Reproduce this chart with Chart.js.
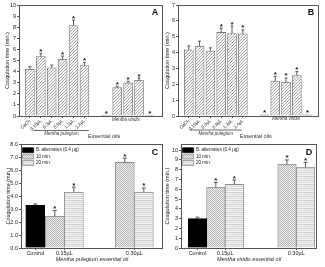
<!DOCTYPE html>
<html><head><meta charset="utf-8">
<script src="https://cdn.jsdelivr.net/npm/chart.js@4.4.1/dist/chart.umd.min.js"></script>
<style>
html,body{margin:0;padding:0;background:#fff;width:325px;height:267px;overflow:hidden}
canvas{position:absolute}
</style></head><body>
<canvas id="cA" width="164" height="140" style="left:0;top:0"></canvas>
<canvas id="cB" width="161" height="140" style="left:164px;top:0"></canvas>
<canvas id="cC" width="164" height="127" style="left:0;top:140px"></canvas>
<canvas id="cD" width="161" height="127" style="left:164px;top:140px"></canvas>
<script>
// ---------------- DATA ----------------
const doseLabels = ['CaCl\u2082','0.15\u00b5L','0.3\u00b5L','0.6\u00b5L','1.2\u00b5L','2.4\u00b5L'];
const A_pulegium     = [4.2, 5.35, 4.35, 5.1, 8.15, 4.55];
const A_pulegiumErr  = [0.24, 0.3, 0.24, 0.3, 0.48, 0.27];
const A_pulegiumStar = [false, true, false, true, true, true];
const A_viridis      = [0.08, 2.55, 2.98, 3.22, 0.08];
const A_viridisErr   = [0, 0.12, 0.15, 0.2, 0];
const A_viridisStar  = [true, true, true, true, true];

const B_pulegium     = [4.17, 4.4, 4.1, 5.27, 5.2, 5.18];
const B_pulegiumErr  = [0.25, 0.32, 0.2, 0.27, 0.46, 0.25];
const B_pulegiumStar = [false, false, false, true, true, true];
const B_viridis      = [0.08, 2.2, 2.12, 2.55, 0.08];
const B_viridisErr   = [0, 0.3, 0.28, 0.25, 0];
const B_viridisStar  = [true, true, true, true, true];

const oilDoses = ['Control', '0.15\u00b5L', '0.30\u00b5L'];
const seriesNames = ['B. alternatus (0.4 \u00b5g)', '10 min.', '20 min.'];
const C_control = [3.3];        const C_controlErr = [0.1];
const C_min10   = [2.45, 6.6];  const C_min10Err   = [0.44, 0.33];
const C_min20   = [4.3, 4.3];   const C_min20Err   = [0.4, 0.33];
const D_control = [3.0];        const D_controlErr = [0.15];
const D_min10   = [6.2, 8.55];  const D_min10Err   = [0.5, 0.45];
const D_min20   = [6.5, 8.25];  const D_min20Err   = [0.45, 0.5];

const yTitle = 'Coagulation time (min.)';

// ---------------- STYLE / LAYOUT ----------------
const FONT = '"Liberation Sans", Arial, sans-serif';
const TXT = '#222';
function pattern(kind){
  const c = document.createElement('canvas');
  let g;
  if (kind === 'diag') {
    c.width = c.height = 3; g = c.getContext('2d');
    g.fillStyle = '#f7f7f7'; g.fillRect(0,0,3,3);
    g.fillStyle = '#a9a9a9'; g.fillRect(2,0,1,1); g.fillRect(1,1,1,1); g.fillRect(0,2,1,1);
  } else if (kind === 'dots') {
    c.width = c.height = 2; g = c.getContext('2d');
    g.fillStyle = '#ececec'; g.fillRect(0,0,2,2);
    g.fillStyle = '#b8b8b8'; g.fillRect(0,0,1,1); g.fillRect(1,1,1,1);
  } else {
    c.width = 1; c.height = 4; g = c.getContext('2d');
    g.fillStyle = '#cfcfcf'; g.fillRect(0,0,1,1);
    g.fillStyle = '#f2f2f2'; g.fillRect(0,1,1,1);
    g.fillStyle = '#d9d9d9'; g.fillRect(0,2,1,1);
    g.fillStyle = '#f6f6f6'; g.fillRect(0,3,1,1);
  }
  return g.createPattern(c, 'repeat');
}

const decorPlugin = {
  id: 'decor',
  afterDatasetsDraw(chart, args, opts) {
    const ctx = chart.ctx, ys = chart.scales.y;
    chart.data.datasets.forEach((ds, di) => {
      const meta = chart.getDatasetMeta(di);
      meta.data.forEach((el, i) => {
        const v = ds.data[i].y, e = (ds.errs || [])[i] || 0;
        const top = ys.getPixelForValue(v + e);
        ctx.save();
        ctx.strokeStyle = '#333'; ctx.lineWidth = 0.8;
        if (e > 0) {
          ctx.beginPath();
          ctx.moveTo(el.x, el.y); ctx.lineTo(el.x, top);
          ctx.moveTo(el.x - opts.cap, top); ctx.lineTo(el.x + opts.cap, top);
          ctx.stroke();
        }
        if (ds.stars && ds.stars[i]) {
          ctx.fillStyle = TXT; ctx.font = 'bold 8px ' + FONT;
          ctx.textAlign = 'center'; ctx.textBaseline = 'alphabetic';
          ctx.fillText('*', el.x, top + 0.5);
        }
        ctx.restore();
      });
    });
  },
  afterDraw(chart, args, opts) {
    const ctx = chart.ctx, ca = chart.chartArea, xs = chart.scales.x;
    ctx.save();
    ctx.strokeStyle = '#555'; ctx.lineWidth = 1;
    ctx.strokeRect(Math.round(ca.left) + 0.5, Math.round(ca.top) + 0.5,
                   Math.round(ca.right - ca.left) - 1, Math.round(ca.bottom - ca.top));
    ctx.fillStyle = '#111'; ctx.font = 'bold 9px ' + FONT;
    ctx.textAlign = 'center'; ctx.textBaseline = 'middle';
    ctx.fillText(opts.letter, ca.right - 8, ca.top + 8);
    (opts.items || []).forEach(t => {
      ctx.font = (t.italic ? 'italic ' : '') + t.size + 'px ' + FONT;
      ctx.fillStyle = '#333';
      ctx.fillText(t.text, xs.getPixelForValue(t.x), t.y);
    });
    if (opts.line) {
      ctx.strokeStyle = '#444'; ctx.lineWidth = 0.8;
      ctx.beginPath();
      ctx.moveTo(xs.getPixelForValue(opts.line.x1), opts.line.y);
      ctx.lineTo(xs.getPixelForValue(opts.line.x2), opts.line.y);
      ctx.stroke();
    }
    ctx.restore();
  }
};

function yAxis(max, step, width, titlePad, dec) {
  return {
    min: 0, max: max,
    afterFit: s => { s.width = width; },
    border: { display: false },
    grid: { drawOnChartArea: false, tickLength: 2, color: '#555' },
    ticks: { stepSize: step, includeBounds: false, padding: 1, color: TXT,
             font: { family: FONT, size: 5.5 },
             callback: v => dec ? v.toFixed(1) : v },
    title: { display: true, text: yTitle, color: TXT, padding: { top: titlePad, bottom: 0 },
             font: { family: FONT, size: 5.5 } }
  };
}

function makeAB(id, pul, pulErr, pulStar, vir, virErr, virStar, ymax, xmax, yW, pr, letter, items, line) {
  const hatch = pattern('diag');
  const style = { backgroundColor: hatch, borderColor: '#7a7a7a', borderWidth: 0.8, barThickness: 9, grouped: false };
  new Chart(document.getElementById(id), {
    type: 'bar',
    data: { datasets: [
      Object.assign({ data: pul.map((y, i) => ({ x: i + 1, y })), errs: pulErr, stars: pulStar }, style),
      Object.assign({ data: vir.map((y, i) => ({ x: i + 8, y })), errs: virErr, stars: virStar }, style)
    ]},
    options: {
      responsive: false, animation: false, devicePixelRatio: 1,
      layout: { padding: { left: 0, top: 5, right: pr, bottom: 0 } },
      scales: {
        x: { type: 'linear', min: 0, max: xmax, offset: false,
             afterFit: s => { s.height = 24; },
             afterBuildTicks: s => { s.ticks = doseLabels.map((l, i) => ({ value: i + 1 })); },
             border: { display: false },
             grid: { offset: false, drawOnChartArea: false, tickLength: 2, color: '#555' },
             ticks: { autoSkip: false, minRotation: 45, maxRotation: 45, padding: 0, color: TXT,
                      font: { family: FONT, size: 4.6 },
                      callback: (v, i) => doseLabels[i] } },
        y: yAxis(ymax, 1, yW, letter === 'A' ? 4 : 0, false)
      },
      plugins: { legend: { display: false }, tooltip: { enabled: false },
                 decor: { letter, items, line, cap: 1.5 } }
    },
    plugins: [decorPlugin]
  });
}

makeAB('cA', A_pulegium, A_pulegiumErr, A_pulegiumStar, A_viridis, A_viridisErr, A_viridisStar,
  10, 13.2, 19, 1, 'A',
  [ { text: 'Mentha viridis', x: 9.8, y: 120, italic: true, size: 4.5 },
    { text: 'Mentha pulegium', x: 3.9, y: 133.5, italic: true, size: 4.5 },
    { text: 'Essential oils', x: 7.8, y: 136.5, italic: false, size: 5.5 } ],
  { x1: 1.3, x2: 6.4, y: 130.5 });

makeAB('cB', B_pulegium, B_pulegiumErr, B_pulegiumStar, B_viridis, B_viridisErr, B_viridisStar,
  7, 13.05, 14, 6, 'B',
  [ { text: 'Mentha viridis', x: 10, y: 119, italic: true, size: 4.5 },
    { text: 'Mentha pulegium', x: 3.5, y: 133.5, italic: true, size: 4.5 },
    { text: 'Essential oils', x: 7.2, y: 136.5, italic: false, size: 5.5 } ],
  { x1: 1.1, x2: 5.9, y: 130 });

function makeCD(id, ctl, ctlErr, m10, m10Err, m20, m20Err, ymax, step, dec, pos, xmax, barW, yW, pr, pt, titlePad, letter, xTitle) {
  const base = { barThickness: barW, grouped: false, borderWidth: 0.8 };
  new Chart(document.getElementById(id), {
    type: 'bar',
    data: { datasets: [
      Object.assign({ label: seriesNames[0], data: ctl.map((y, i) => ({ x: pos[i], y })), errs: ctlErr,
        stars: ctl.map(() => false), backgroundColor: '#000', borderColor: '#000' }, base),
      Object.assign({ label: seriesNames[1], data: m10.map((y, i) => ({ x: pos[i + 1] - 0.5, y })), errs: m10Err,
        stars: m10.map(() => true), backgroundColor: pattern('dots'), borderColor: '#8a8a8a' }, base),
      Object.assign({ label: seriesNames[2], data: m20.map((y, i) => ({ x: pos[i + 1] + 0.5, y })), errs: m20Err,
        stars: m20.map(() => true), backgroundColor: pattern('stripes'), borderColor: '#8a8a8a' }, base)
    ]},
    options: {
      responsive: false, animation: false, devicePixelRatio: 1,
      layout: { padding: { left: 0, top: pt, right: pr, bottom: 0 } },
      scales: {
        x: { type: 'linear', min: 0, max: xmax, offset: false,
             afterFit: s => { s.height = 19; },
             afterBuildTicks: s => { s.ticks = oilDoses.map((l, i) => ({ value: pos[i] })); },
             border: { display: false },
             grid: { offset: false, drawOnChartArea: false, tickLength: 2, color: '#555' },
             ticks: { autoSkip: false, maxRotation: 0, padding: 0, color: TXT,
                      font: { family: FONT, size: 5.5 },
                      callback: (v, i) => oilDoses[i] },
             title: { display: true, text: xTitle, color: TXT, padding: { top: 0, bottom: 4.5 },
                      font: { family: FONT, size: 5.5, style: 'italic' } } },
        y: yAxis(ymax, step, yW, titlePad, dec)
      },
      plugins: {
        legend: { position: 'chartArea', align: 'start',
                  title: { display: true, text: ' ', padding: { top: 0, bottom: 5 }, font: { size: 1 } },
                  labels: { boxWidth: 11, boxHeight: 4.8, padding: 1.6, color: TXT,
                            font: { family: FONT, size: 4.6 } } },
        tooltip: { enabled: false },
        decor: { letter, cap: 2 }
      }
    },
    plugins: [decorPlugin]
  });
}

makeCD('cC', C_control, C_controlErr, C_min10, C_min10Err, C_min20, C_min20Err,
  8, 0.5, true, [0.75, 2.28, 5.96], 7.47, 19, 21, 1, 4, 5, 'C', 'Mentha pulegium essential oil');
makeCD('cD', D_control, D_controlErr, D_min10, D_min10Err, D_min20, D_min20Err,
  10.6, 1, false, [0.89, 2.38, 6.22], 7.34, 18.5, 17, 8, 3, 0, 'D', 'Mentha viridis essential oil');
</script>
</body></html>
